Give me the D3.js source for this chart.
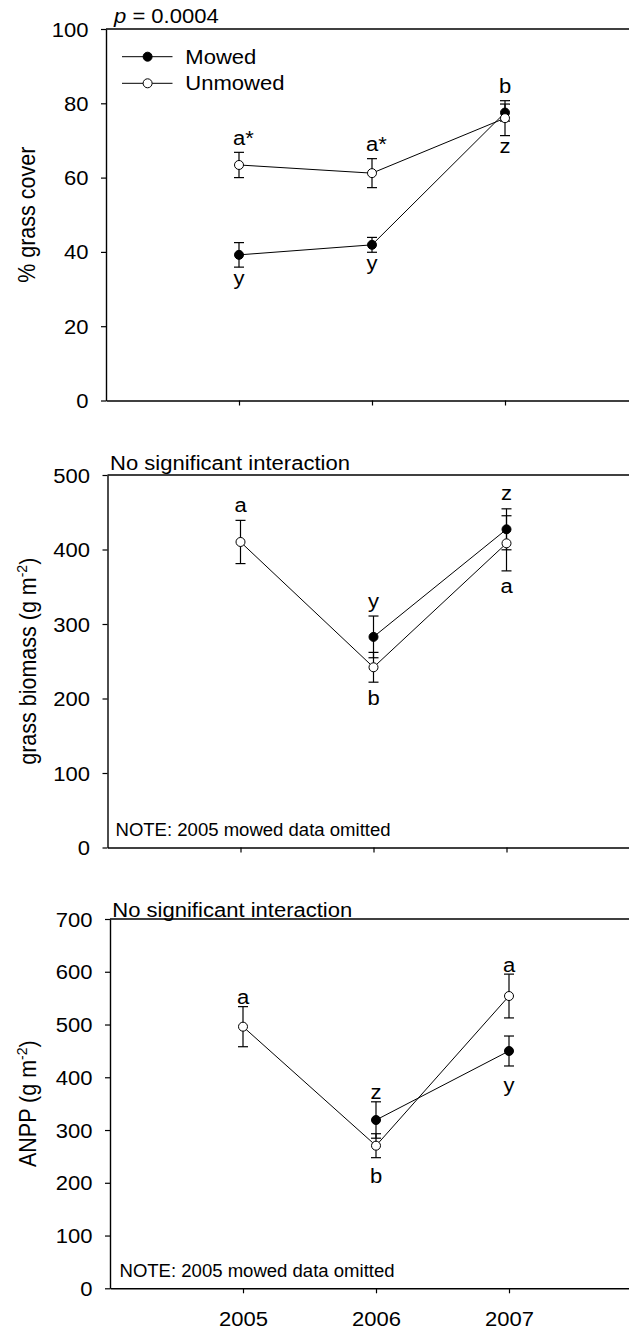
<!DOCTYPE html>
<html>
<head>
<meta charset="utf-8">
<script src="https://cdn.jsdelivr.net/npm/d3@7"></script>
<style>
  body { margin: 0; background: #fff; }
  svg text { font-family: "Liberation Sans", Arial, sans-serif; fill: #000; }
</style>
</head>
<body>
<svg id="chart" width="629" height="1329"></svg>
<script>
// ---- data ----
const years = [2005, 2006, 2007];

const coverMowed = [39.2, 41.9, 77.5];
const coverMowedSE = [3.3, 2.0, 2.3];
const coverUnmowed = [63.4, 61.2, 76.0];
const coverUnmowedSE = [3.4, 3.9, 4.7];

// 2005 mowed data omitted
const biomassMowed = [null, 282.7, 427.1];
const biomassMowedSE = [null, 28, 27.5];
const biomassUnmowed = [410.1, 241.9, 408.3];
const biomassUnmowedSE = [29, 20, 37];

const anppMowed = [null, 319, 449.8];
const anppMowedSE = [null, 34.5, 28.4];
const anppUnmowed = [495.9, 270.3, 554];
const anppUnmowedSE = [38, 22.7, 41.5];

// significance letters: [year, text, series it sits on, side]
const coverLetters = [[2005, "a*", "u", "above"], [2006, "a*", "u", "above"], [2007, "b", "u", "above"],
                      [2005, "y", "m", "below"], [2006, "y", "m", "below"], [2007, "z", "u", "below"]];
const biomassLetters = [[2005, "a", "u", "above"], [2006, "y", "m", "above"], [2006, "b", "u", "below"],
                        [2007, "z", "m", "above"], [2007, "a", "u", "below"]];
const anppLetters = [[2005, "a", "u", "above"], [2006, "z", "m", "above"], [2006, "b", "u", "below"],
                     [2007, "a", "u", "above"], [2007, "y", "m", "below"]];

const coverTicks = [0, 20, 40, 60, 80, 100];
const biomassTicks = [0, 100, 200, 300, 400, 500];
const anppTicks = [0, 100, 200, 300, 400, 500, 600, 700];

const seriesNames = ["Mowed", "Unmowed"];

// ---- drawing ----
const svg = d3.select("#chart");
const SX = 1.13;          // the figure's lettering is a bit wide
const FS = 19.5;

function addText(g, x, y, str, anchor, size) {
  return g.append("text")
    .attr("transform", `translate(${x},${y}) scale(${SX},1)`)
    .attr("text-anchor", anchor || "start")
    .style("font-size", (size || FS) + "px")
    .text(str);
}

function drawPanel(p) {
  const g = svg.append("g");
  const x = d3.scaleLinear().domain([2004, 2008]).range([p.left, p.left + 532]);
  const y = d3.scaleLinear().domain([0, p.max]).range([p.bottom, p.top]);

  // y axis
  const ya = g.append("g")
    .attr("transform", `translate(${p.left},0)`)
    .call(d3.axisLeft(y).tickValues(p.ticks).tickSize(5).tickSizeOuter(0));
  ya.select(".domain").attr("stroke-width", 1.4);
  ya.selectAll(".tick line").attr("stroke-width", 1.2);
  ya.selectAll(".tick text")
    .attr("x", -17.5 / SX).attr("dy", "0.36em")
    .attr("transform", `scale(${SX},1)`)
    .style("font-size", FS + "px").attr("font-family", null);

  // x axis
  const xa = g.append("g")
    .attr("transform", `translate(0,${p.bottom})`)
    .call(d3.axisBottom(x).tickValues(years).tickSize(5).tickSizeOuter(0)
      .tickFormat(p.xLabels ? d3.format("d") : ""));
  xa.select(".domain").attr("stroke-width", 1.4);
  xa.selectAll(".tick line").attr("stroke-width", 1.2);
  xa.selectAll(".tick text")
    .attr("y", 37.7).attr("dy", null)
    .attr("transform", `scale(${SX},1)`)
    .style("font-size", FS + "px").attr("font-family", null);

  // top frame line
  g.append("line")
    .attr("x1", x.range()[0]).attr("x2", x.range()[1])
    .attr("y1", y(p.max)).attr("y2", y(p.max))
    .attr("stroke", "#000").attr("stroke-width", 1.4);

  // y label
  const yl = g.append("text")
    .attr("transform", `translate(${p.ylabelX},${(p.top + p.bottom) / 2}) rotate(-90) scale(1,1.1)`)
    .attr("text-anchor", "middle")
    .style("font-size", "21.5px")
    .text(p.ylabel);
  if (p.sup) {
    yl.append("tspan").attr("dy", -8).style("font-size", "14px").text(p.sup);
    yl.append("tspan").attr("dy", 8).text(")");
  }

  // header text above frame
  if (p.title) addText(g, p.titleX, p.titleY, p.title);
  if (p.note) addText(g, p.noteX, p.noteY, p.note, "start", 17.5)
    .attr("transform", `translate(${p.noteX},${p.noteY}) scale(1.06,1)`);

  const series = [
    { key: "m", vals: p.mowed, se: p.mowedSE, fill: "#000" },
    { key: "u", vals: p.unmowed, se: p.unmowedSE, fill: "#fff" }
  ];
  const pts = s => years.map((yr, i) => ({ yr, v: s.vals[i], se: s.se[i] }))
    .filter(d => d.v != null);

  // error bars
  series.forEach(s => {
    const eb = g.append("g").selectAll("g").data(pts(s)).join("g")
      .attr("stroke", "#000").attr("stroke-width", 1.2);
    eb.append("line")
      .attr("x1", d => x(d.yr)).attr("x2", d => x(d.yr))
      .attr("y1", d => y(d.v - d.se)).attr("y2", d => y(d.v + d.se));
    eb.append("line")
      .attr("x1", d => x(d.yr) - 5).attr("x2", d => x(d.yr) + 5)
      .attr("y1", d => y(d.v + d.se)).attr("y2", d => y(d.v + d.se));
    eb.append("line")
      .attr("x1", d => x(d.yr) - 5).attr("x2", d => x(d.yr) + 5)
      .attr("y1", d => y(d.v - d.se)).attr("y2", d => y(d.v - d.se));
  });

  // lines
  const line = d3.line().x(d => x(d.yr)).y(d => y(d.v));
  series.forEach(s => {
    g.append("path").datum(pts(s))
      .attr("d", line).attr("fill", "none")
      .attr("stroke", "#000").attr("stroke-width", 1);
  });

  // markers
  series.forEach(s => {
    g.append("g").selectAll("circle").data(pts(s)).join("circle")
      .attr("cx", d => x(d.yr)).attr("cy", d => y(d.v)).attr("r", 4.5)
      .attr("fill", s.fill).attr("stroke", "#000").attr("stroke-width", 1);
  });

  // letters
  p.letters.forEach(([yr, txt, key, side]) => {
    const s = series.find(q => q.key === key);
    const i = years.indexOf(yr);
    const v = s.vals[i], se = s.se[i];
    const yy = side === "above" ? y(v + se) - p.gapAbove : y(v - se) + p.gapBelow;
    if (txt.endsWith("*")) addText(g, x(yr) - 6, yy, txt, "start");
    else addText(g, x(yr), yy, txt, "middle");
  });

  return { g, x, y };
}

const p1 = drawPanel({
  left: 106, top: 29, bottom: 400.5, max: 100, ticks: coverTicks,
  mowed: coverMowed, mowedSE: coverMowedSE, unmowed: coverUnmowed, unmowedSE: coverUnmowedSE,
  letters: coverLetters, gapAbove: 7.5, gapBelow: 17.8,
  ylabel: "% grass cover", ylabelX: 35
});

// p value, with italic p
const pv = p1.g.append("text")
  .attr("transform", `translate(114,23) scale(${SX},1)`)
  .style("font-size", FS + "px");
pv.append("tspan").style("font-style", "italic").text("p");
pv.append("tspan").text(" = 0.0004");

// legend
const legend = p1.g.append("g");
seriesNames.forEach((name, i) => {
  const ly = 56.7 + i * 26.6;
  legend.append("line").attr("x1", 122).attr("x2", 172.5).attr("y1", ly).attr("y2", ly)
    .attr("stroke", "#000").attr("stroke-width", 1);
  legend.append("circle").attr("cx", 147.6).attr("cy", ly).attr("r", 4.5)
    .attr("fill", i === 0 ? "#000" : "#fff").attr("stroke", "#000");
  addText(legend, 185.3, ly + 6.8, name);
});

drawPanel({
  left: 107.5, top: 475, bottom: 847.5, max: 500, ticks: biomassTicks,
  mowed: biomassMowed, mowedSE: biomassMowedSE, unmowed: biomassUnmowed, unmowedSE: biomassUnmowedSE,
  letters: biomassLetters, gapAbove: 8.5, gapBelow: 22.5,
  ylabel: "grass biomass (g m", sup: "-2", ylabelX: 36,
  title: "No significant interaction", titleX: 110, titleY: 470,
  note: "NOTE: 2005 mowed data omitted", noteX: 115.5, noteY: 836
});

drawPanel({
  left: 110, top: 919, bottom: 1288.3, max: 700, ticks: anppTicks,
  mowed: anppMowed, mowedSE: anppMowedSE, unmowed: anppUnmowed, unmowedSE: anppUnmowedSE,
  letters: anppLetters, gapAbove: 2.5, gapBelow: 25.8,
  ylabel: "ANPP (g m", sup: "-2", ylabelX: 36,
  title: "No significant interaction", titleX: 112.3, titleY: 916.7,
  note: "NOTE: 2005 mowed data omitted", noteX: 119.5, noteY: 1276.7,
  xLabels: true
});
</script>
</body>
</html>
